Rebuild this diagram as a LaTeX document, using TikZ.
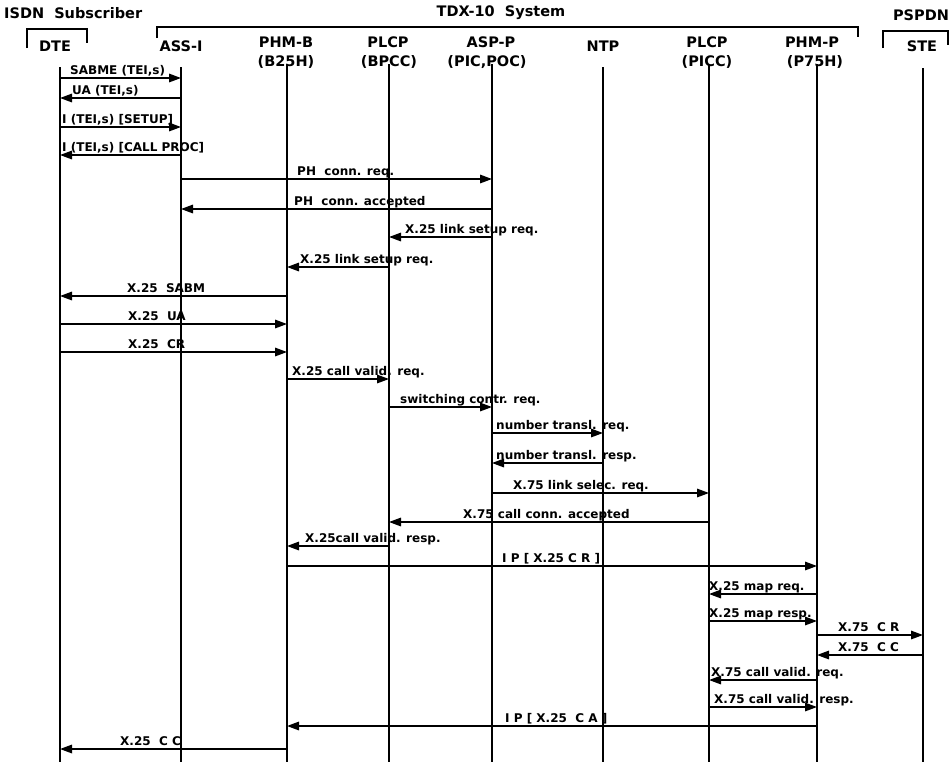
\documentclass[tikz,border=0pt]{standalone}
\usepackage{fontspec}
\setmainfont{DejaVu Sans}
\usetikzlibrary{arrows.meta}
\tikzset{
  life/.style={line width=1.6pt},
  brk/.style={line width=1.5pt},
  msg/.style={line width=1.6pt,-{Triangle[length=12pt,width=8.5pt]}},
  lbl/.style={font=\bfseries\fontsize{12}{13}\selectfont, anchor=base west, inner sep=0pt},
  hdr/.style={font=\bfseries\fontsize{14.5}{15}\selectfont, inner sep=0pt},
}
% #1 from, #2 to, #3 y, #4 label x, #5 name, #6 text
\newcommand{\Msg}[6]{%
  \draw[msg] (#1 |- 0,#3) -- (#2 |- 0,#3);
  \node[lbl] (#5) at (#4,#3-3.5) {#6};}
\begin{document}
\begin{tikzpicture}[x=1pt,y=-1pt]
\useasboundingbox (0,0) rectangle (949,764);

% group titles and brackets
\node[hdr,anchor=west] (isdn) at (4,13) {ISDN~~Subscriber};
\node[hdr] (tdx) at (501,13) {TDX-10~~System};
\node[hdr] (pspdn) at (921,15) {PSPDN};
\draw[brk] (27,48) -- (27,29) -- (87,29) -- (87,43);
\draw[brk] (157,38) -- (157,27) -- (858,27) -- (858,37);
\draw[brk] (883,48) -- (883,31) -- (948,31) -- (948,45);

% entity headers
\node[hdr] (hDTE) at (55,46) {DTE};
\node[hdr] (hASS) at (181,46) {ASS-I};
\node[hdr] (hPHB) at (286,42) {PHM-B};
\node[hdr] (hPHBb) at (286,62) {(B25H)};
\node[hdr] (hBPCC) at (388,42) {PLCP};
\node[hdr] (hBPCCb) at (389,62) {(BPCC)};
\node[hdr] (hASP) at (491,42) {ASP-P};
\node[hdr] (hASPb) at (487,62) {(PIC,POC)};
\node[hdr] (hNTP) at (603,46) {NTP};
\node[hdr] (hPICC) at (707,42) {PLCP};
\node[hdr] (hPICCb) at (707,62) {(PICC)};
\node[hdr] (hPHP) at (812,42) {PHM-P};
\node[hdr] (hPHPb) at (815,62) {(P75H)};
\node[hdr] (hSTE) at (922,46) {STE};

% lifelines
\coordinate (DTE) at (60,67);   \coordinate (DTEe) at (60,762);
\coordinate (ASS) at (181,67);  \coordinate (ASSe) at (181,762);
\coordinate (PHB) at (287,64);  \coordinate (PHBe) at (287,762);
\coordinate (BPCC) at (389,64); \coordinate (BPCCe) at (389,762);
\coordinate (ASP) at (492,64);  \coordinate (ASPe) at (492,762);
\coordinate (NTP) at (603,67);  \coordinate (NTPe) at (603,762);
\coordinate (PICC) at (709,64); \coordinate (PICCe) at (709,762);
\coordinate (PHP) at (817,64);  \coordinate (PHPe) at (817,762);
\coordinate (STE) at (923,68);  \coordinate (STEe) at (923,762);
\foreach \a in {DTE,ASS,PHB,BPCC,ASP,NTP,PICC,PHP,STE}
  \draw[life] (\a) -- (\a e);

% messages
\Msg{DTE}{ASS}{78}{70}{m1}{SABME (TEI,s)}
\Msg{ASS}{DTE}{98}{72}{m2}{UA (TEI,s)}
\Msg{DTE}{ASS}{127}{62}{m3}{I (TEI,s) [SETUP]}
\Msg{ASS}{DTE}{155}{62}{m4}{I (TEI,s) [CALL PROC]}
\Msg{ASS}{ASP}{179}{297}{m5}{PH~~conn. req.}
\Msg{ASP}{ASS}{209}{294}{m6}{PH~~conn. accepted}
\Msg{ASP}{BPCC}{237}{405}{m7}{X.25 link setup req.}
\Msg{BPCC}{PHB}{267}{300}{m8}{X.25 link setup req.}
\Msg{PHB}{DTE}{296}{127}{m9}{X.25~~SABM}
\Msg{DTE}{PHB}{324}{128}{m10}{X.25~~UA}
\Msg{DTE}{PHB}{352}{128}{m11}{X.25~~CR}
\Msg{PHB}{BPCC}{379}{292}{m12}{X.25 call valid. req.}
\Msg{BPCC}{ASP}{407}{400}{m13}{switching contr. req.}
\Msg{ASP}{NTP}{433}{496}{m14}{number transl. req.}
\Msg{NTP}{ASP}{463}{496}{m15}{number transl. resp.}
\Msg{ASP}{PICC}{493}{513}{m16}{X.75 link selec. req.}
\Msg{PICC}{BPCC}{522}{463}{m17}{X.75 call conn. accepted}
\Msg{BPCC}{PHB}{546}{305}{m18}{X.25call valid. resp.}
\Msg{PHB}{PHP}{566}{502}{m19}{I P [ X.25 C R ]}
\Msg{PHP}{PICC}{594}{709}{m20}{X.25 map req.}
\Msg{PICC}{PHP}{621}{709}{m21}{X.25 map resp.}
\Msg{PHP}{STE}{635}{838}{m22}{X.75~~C R}
\Msg{STE}{PHP}{655}{838}{m23}{X.75~~C C}
\Msg{PHP}{PICC}{680}{711}{m24}{X.75 call valid. req.}
\Msg{PICC}{PHP}{707}{714}{m25}{X.75 call valid. resp.}
\Msg{PHP}{PHB}{726}{505}{m26}{I P [ X.25~~C A ]}
\Msg{PHB}{DTE}{749}{120}{m27}{X.25~~C C}
\end{tikzpicture}
\end{document}
